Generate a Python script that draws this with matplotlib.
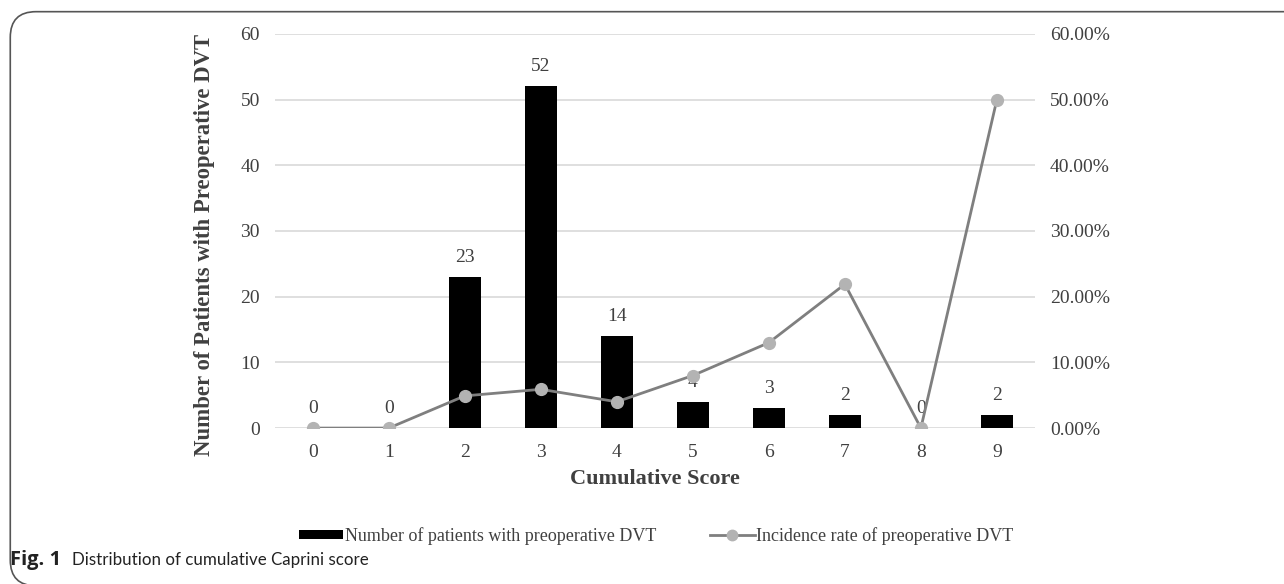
import matplotlib
matplotlib.use("Agg")
import matplotlib.pyplot as plt
from matplotlib.patches import FancyBboxPatch
from matplotlib.ticker import FuncFormatter
from matplotlib.lines import Line2D
from matplotlib.patches import Rectangle

scores = ["0", "1", "2", "3", "4", "5", "6", "7", "8", "9"]
patients = [0, 0, 23, 52, 14, 4, 3, 2, 0, 2]
rates = [0.0, 0.0, 4.9, 5.9, 4.0, 8.0, 13.0, 21.9, 0.0, 50.0]

serif = ["Liberation Serif", "DejaVu Serif"]
txtc = "#404040"

fig = plt.figure(figsize=(12.84, 5.84), dpi=100)
ax = fig.add_axes([0.214, 0.267, 0.592, 0.675])
ax2 = ax.twinx()

x = list(range(len(scores)))
ax.bar(x, patients, width=0.42, color="black", zorder=2)
for xi, v in zip(x, patients):
    ax.annotate(str(v), (xi, v), xytext=(0, 8), textcoords="offset points",
                ha="center", va="bottom", fontsize=14, family=serif, color=txtc)

ax.set_ylim(0, 60)
ax.set_xlim(-0.5, 9.5)
ax.set_yticks(range(0, 61, 10))
ax.set_xticks(x)
ax.set_xticklabels(scores)
ax.grid(axis="y", color="#d9d9d9", linewidth=1.2, zorder=0)
ax.set_axisbelow(True)

ax2.plot(x, rates, color="#7f7f7f", linewidth=2, marker="o", markersize=8.5,
         markerfacecolor="#b3b3b3", markeredgecolor="#b3b3b3", zorder=3)
ax2.set_ylim(0, 60)
ax2.set_yticks(range(0, 61, 10))
ax2.yaxis.set_major_formatter(FuncFormatter(lambda v, p: f"{v:.2f}%"))

for a in (ax, ax2):
    for s in a.spines.values():
        s.set_visible(False)
    a.tick_params(length=0, labelsize=14, colors=txtc)
    for lab in a.get_xticklabels() + a.get_yticklabels():
        lab.set_family(serif)
ax.tick_params(axis="y", pad=10.8)
ax.tick_params(axis="x", pad=11.5)
ax2.tick_params(axis="y", pad=10.8)

ax.set_xlabel("Cumulative Score", fontsize=16, fontweight="bold", family=serif,
              color=txtc, labelpad=6)
ax.set_ylabel("Number of Patients with Preoperative DVT", fontsize=16.4,
              fontweight="bold", family=serif, color=txtc)
ax.yaxis.set_label_coords(-0.079, 0.4645)

handles = [Rectangle((0, 0), 1, 1, facecolor="black"),
           Line2D([0], [0], color="#7f7f7f", linewidth=2, marker="o",
                  markersize=7.5, markerfacecolor="#b3b3b3", markeredgecolor="#b3b3b3")]
labels = ["Number of patients with preoperative DVT",
          "Incidence rate of preoperative DVT"]
leg = fig.legend(handles, labels, loc="center", bbox_to_anchor=(0.511, 0.082),
                 ncol=2, frameon=False, handlelength=2.45, handleheight=0.45,
                 handletextpad=0.1, columnspacing=3.0,
                 prop={"family": serif, "size": 13})
for t in leg.get_texts():
    t.set_color(txtc)

fig.text(0.008, 0.041, "Fig. 1", fontsize=14.5, fontweight="bold",
         family=["Open Sans", "DejaVu Sans"], color="#222222", va="center")
fig.text(0.056, 0.041, "Distribution of cumulative Caprini score", fontsize=12.2,
         family=["Lato", "DejaVu Sans"], color="#222222", va="center")

frame = FancyBboxPatch((0.008, -0.003), 1.1, 0.983, transform=fig.transFigure,
                       boxstyle="round,pad=0,rounding_size=0.02",
                       facecolor="none", edgecolor="#555555", linewidth=1.2,
                       mutation_aspect=2.2)
fig.patches.append(frame)

fig.savefig("out.png", dpi=100)
